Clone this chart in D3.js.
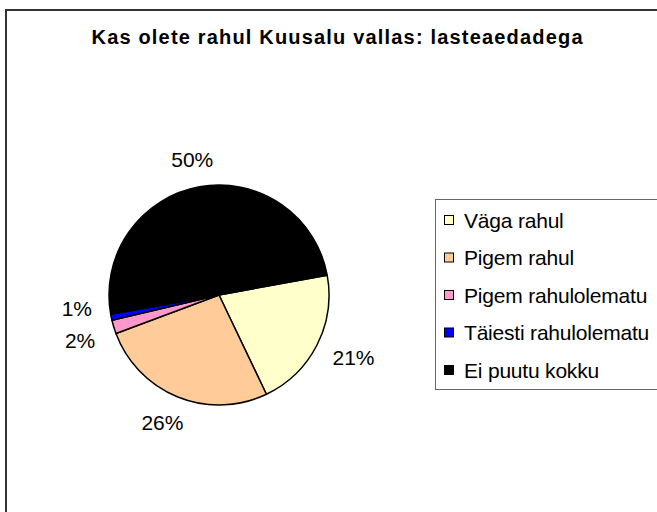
<!DOCTYPE html>
<html>
<head>
<meta charset="utf-8">
<script src="https://cdn.jsdelivr.net/npm/d3@7"></script>
<style>
  body { margin: 0; background: #fff; }
  text { font-family: "Liberation Sans", Arial, sans-serif; fill: #000; }
</style>
</head>
<body>
<svg width="657" height="512"></svg>
<script>
var categories = ["Väga rahul", "Pigem rahul", "Pigem rahulolematu", "Täiesti rahulolematu", "Ei puutu kokku"],
    values = [20.8, 26.4, 2.0, 0.9, 49.9],
    colors = ["#ffffcc", "#ffcc99", "#ff99cc", "#0000ff", "#000000"],
    title = "Kas olete rahul Kuusalu vallas: lasteaedadega";

var svg = d3.select("svg"),
    cx = 219, cy = 295,
    radius = 110,
    startDeg = 79.6,
    total = d3.sum(values);

// outer frame (only left + top edges fall inside the picture)
svg.append("rect")
    .attr("x", 6).attr("y", 10)
    .attr("width", 720).attr("height", 600)
    .attr("fill", "none")
    .attr("stroke", "#333")
    .attr("stroke-width", 2);

svg.append("text")
    .attr("x", 337).attr("y", 44)
    .attr("text-anchor", "middle")
    .style("font-size", "20px")
    .style("font-weight", "bold")
    .attr("textLength", 491)
    .attr("lengthAdjust", "spacing")
    .text(title);

var color = d3.scaleOrdinal().domain(categories).range(colors);

var pie = d3.pie()
    .sort(null)
    .value(function(d) { return d.value; })
    .startAngle(startDeg * Math.PI / 180)
    .endAngle(startDeg * Math.PI / 180 + 2 * Math.PI);

var data = categories.map(function(c, i) { return { name: c, value: values[i] }; }),
    arcs = pie(data);

var arc = d3.arc().innerRadius(0).outerRadius(radius);

var pieGroup = svg.append("g")
    .attr("transform", "translate(" + cx + "," + cy + ")");

pieGroup.selectAll("path")
    .data(arcs)
  .enter().append("path")
    .attr("d", arc)
    .attr("fill", function(d) { return color(d.data.name); })
    .attr("stroke", "#000")
    .attr("stroke-width", 1.5)
    .attr("stroke-linejoin", "round");

// percent labels outside the pie
var gap = 20, lh = 15;

var pct = pieGroup.selectAll("text.pct")
    .data(arcs)
  .enter().append("text")
    .attr("class", "pct")
    .attr("text-anchor", "middle")
    .style("font-size", "21px")
    .text(function(d) { return Math.round(d.data.value / total * 100) + "%"; });

var labels = [];
pct.each(function(d) {
    var a = (d.startAngle + d.endAngle) / 2,
        s = Math.sin(a), c = -Math.cos(a),
        w = this.getComputedTextLength();
    labels.push({
        x: s * (radius + gap) + s * w / 2,
        y: c * (radius + gap) + c * lh / 2
    });
});

// push apart labels that sit on top of each other
var minSep = 32;
labels.forEach(function(a, i) {
    labels.forEach(function(b, j) {
        if (j <= i) return;
        if (Math.abs(a.x - b.x) < 40 && Math.abs(a.y - b.y) < minSep) {
            var mid = (a.y + b.y) / 2 - 4, sign = a.y < b.y ? -1 : 1;
            a.y = mid + sign * minSep / 2;
            b.y = mid - sign * minSep / 2;
        }
    });
});

pct.attr("x", function(d, i) { return labels[i].x; })
    .attr("y", function(d, i) { return labels[i].y + 7.5; });

// legend
var legend = svg.append("g");

legend.append("rect")
    .attr("x", 435.5).attr("y", 199.5)
    .attr("width", 260).attr("height", 190)
    .attr("fill", "#fff")
    .attr("stroke", "#666")
    .attr("stroke-width", 1);

var rowY = d3.scalePoint().domain(categories).range([220, 370]);

var row = legend.selectAll("g.row")
    .data(categories)
  .enter().append("g")
    .attr("class", "row")
    .attr("transform", function(d) { return "translate(0," + rowY(d) + ")"; });

row.append("rect")
    .attr("x", 444.5).attr("y", -4.5)
    .attr("width", 9).attr("height", 9)
    .attr("fill", function(d) { return color(d); })
    .attr("stroke", "#000")
    .attr("stroke-width", 1);

row.append("text")
    .attr("x", 464).attr("y", 7.5)
    .style("font-size", "21px")
    .style("letter-spacing", "-0.2px")
    .text(function(d) { return d; });
</script>
</body>
</html>
